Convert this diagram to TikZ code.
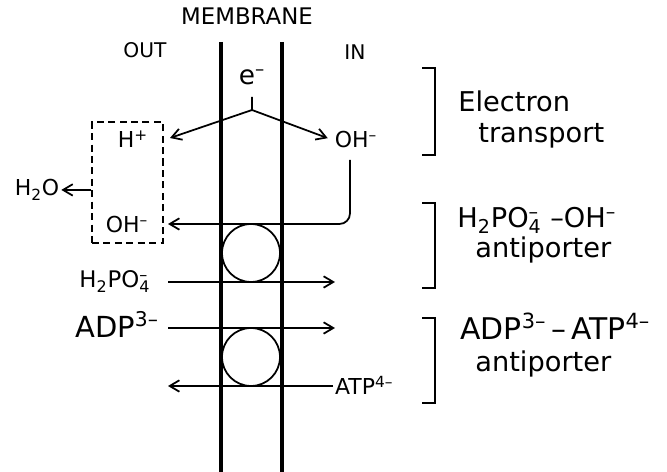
\documentclass[tikz,border=0pt]{standalone}
\usepackage{fontspec}
\setmainfont{DejaVu Sans}
\usetikzlibrary{arrows.meta}
\newcommand{\chg}{\textsuperscript{–}}
\newcommand{\sbs}[1]{\textsubscript{#1}}
\newcommand{\subchg}[1]{\rlap{\textsuperscript{–}}\textsubscript{#1}}

\begin{document}
\begin{tikzpicture}[x=0.02cm, y=-0.02cm,
    mem/.style={line width=1.8pt},
    arr/.style={-{Straight Barb[length=5.5pt,width=6.5pt]}, line width=1pt},
    brk/.style={line width=1pt},
    carrier/.style={circle, draw, line width=1pt,
                    minimum size=1.16cm, inner sep=0pt},
    outbox/.style={draw, dash pattern=on 4pt off 2.5pt, line width=1pt,
                   minimum width=1.42cm, minimum height=2.42cm, inner sep=0pt},
    side/.style={font=\fontsize{11.5}{13}\selectfont, anchor=base},
    ion/.style={font=\fontsize{12.5}{15}\selectfont, anchor=base, inner sep=1pt},
    what/.style={font=\fontsize{15.5}{18}\selectfont, anchor=base west, inner sep=0pt}]

    \useasboundingbox (0,0) rectangle (667,472);

    % Membrane
    \foreach \x in {221,282} {
      \draw[mem] (\x,42) -- (\x,472);
    }
    \node[side, font=\fontsize{13}{15}\selectfont] (memlbl) at (247,25) {MEMBRANE};
    \node[side] (outlbl) at (145,58) {OUT};
    \node[side] (inlbl) at (355,60) {IN};

    % Electron transport
    \node[ion, font=\fontsize{15}{18}\selectfont] (elec) at (252,85) {e\chg};
    \coordinate (stem) at (252,97);
    \coordinate (fork) at (252,110);
    \coordinate (hin) at (170,138);
    \node[ion] (hplus) at (133,148) {H\textsuperscript{+}};
    \node[ion] (ohin) at (356,148) {OH\chg};
    \draw[arr] (stem) -- (fork) -- (hin);
    \draw[arr, shorten >=3pt] (fork) -- (ohin.west);

    % Outside box
    \node[outbox] (box) at (127.5,182.5) {};
    \node[ion] (ohout) at (127,233) {OH\chg};
    \node[ion] (water) at (37,196) {H\sbs{2}O};
    \draw[arr] (box.west |- water) -- (water.east);

    % OH- back out
    \coordinate (ohdown) at (350,160);
    \coordinate (ohback) at (168,224);
    \draw[arr, rounded corners=6pt] (ohdown) |- (ohback);

    % Antiporters
    \node[carrier] (pcarrier) at (251,253) {};
    \node[carrier] (acarrier) at (251,357) {};
    \node[ion, font=\fontsize{13}{15}\selectfont] (h2po4) at (115,288) {H\sbs{2}PO\subchg{4}};
    \node[ion, font=\fontsize{16.5}{19}\selectfont] (adp) at (117,338) {ADP\textsuperscript{3–}};
    \node[ion, anchor=base west] (atp) at (333,395) {ATP\textsuperscript{4–}};
    \coordinate (pL) at (168,282);
    \coordinate (pR) at (335,282);
    \coordinate (aL) at (168,328);
    \coordinate (aR) at (335,328);
    \coordinate (tL) at (168,386);
    \draw[arr] (pL) -- (pR);
    \draw[arr] (aL) -- (aR);
    \draw[arr] (atp.west |- tL) -- (tL);

    % Brackets
    \foreach \t/\b in {68/155,203/288,318/403} {
      \draw[brk] (422,\t) -- (435,\t) -- (435,\b) -- (422,\b);
    }
    \node[what] (et1) at (458,112) {Electron};
    \node[what] (et2) at (478,143) {transport};
    \node[what] (pa1) at (457,228) {H\sbs{2}PO\subchg{4}\ –OH\chg};
    \node[what] (pa2) at (475,258) {antiporter};
    \node[what, font=\fontsize{17}{19}\selectfont] (aa1) at (460,340)
      {ADP\textsuperscript{3–}\,–\,ATP\textsuperscript{4–}};
    \node[what] (aa2) at (475,372) {antiporter};
\end{tikzpicture}
\end{document}
